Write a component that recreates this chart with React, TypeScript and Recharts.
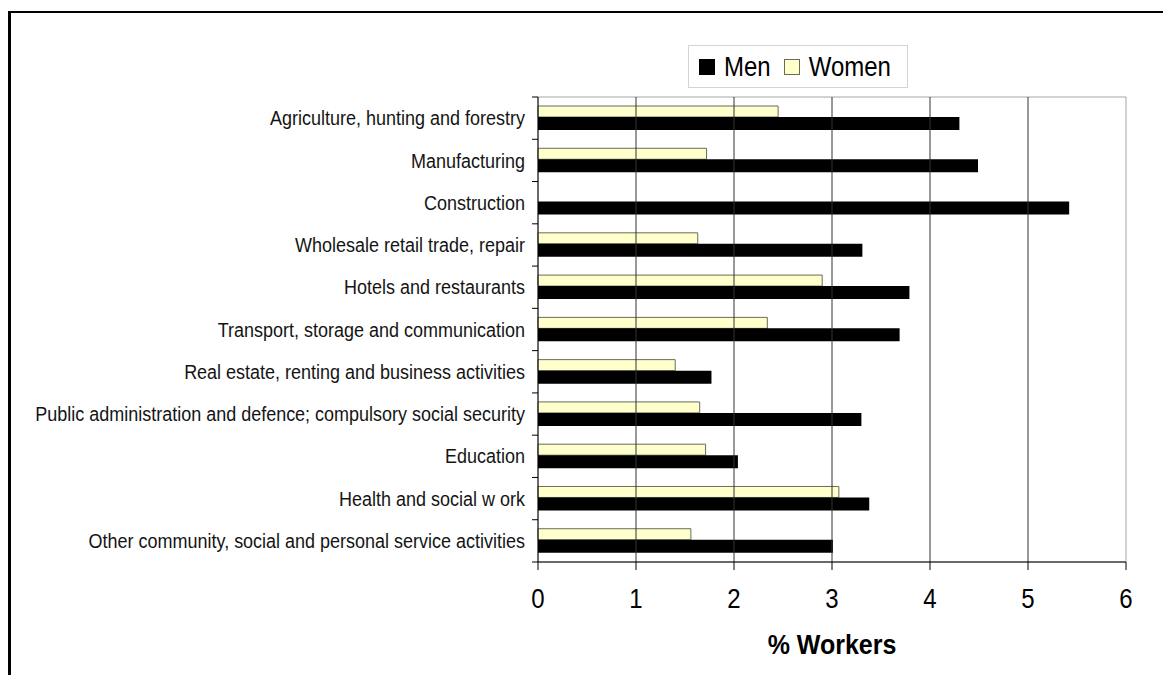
import React from 'react';
import {
  BarChart,
  Bar,
  XAxis,
  YAxis,
  Legend,
  ReferenceArea,
  ReferenceLine,
} from 'recharts';

// Share of workers by economic activity, men vs women
const categories = [
  'Agriculture, hunting and forestry',
  'Manufacturing',
  'Construction',
  'Wholesale retail trade, repair',
  'Hotels and restaurants',
  'Transport, storage and communication',
  'Real estate, renting and business activities',
  'Public administration and defence; compulsory social security',
  'Education',
  'Health and social w ork',
  'Other community, social and personal service activities',
];

const womenValues: (number | null)[] = [2.45, 1.72, null, 1.63, 2.9, 2.34, 1.4, 1.65, 1.71, 3.07, 1.56];
const menValues: number[] = [4.3, 4.49, 5.42, 3.31, 3.79, 3.69, 1.77, 3.3, 2.04, 3.38, 3.01];

const xTicks = [0, 1, 2, 3, 4, 5, 6];

const seriesNames = { men: 'Men', women: 'Women' };
const legendOrder: ('men' | 'women')[] = ['men', 'women'];

const COLORS = {
  men: '#000000',
  women: '#FFFFCC',
  womenStroke: '#6b6b5a',
  grid: '#333333',
  frame: '#a6a6a6',
};

const data = categories.map((name, i) => ({
  name,
  women: womenValues[i],
  men: menValues[i],
}));

const W = 1163;
const H = 675;
const PLOT_LEFT = 538;
const PLOT_RIGHT = 1126;
const PLOT_TOP = 97;
const PLOT_BOTTOM = 562;
const Y_AXIS_WIDTH = 528;
const X_AXIS_HEIGHT = 60;
const BAND = (PLOT_BOTTOM - PLOT_TOP) / categories.length;
const FONT = '"Liberation Sans", Arial, Helvetica, sans-serif';
const STRETCH = 1.13;

function CategoryTick(props: any) {
  const { y, payload, index } = props;
  const top = y - BAND / 2;
  const bottom = y + BAND / 2;
  return (
    <g>
      <line x1={PLOT_LEFT - 6} x2={PLOT_LEFT} y1={top} y2={top} stroke="#000" strokeWidth={1} />
      {index === categories.length - 1 && (
        <line x1={PLOT_LEFT - 6} x2={PLOT_LEFT} y1={bottom} y2={bottom} stroke="#000" strokeWidth={1} />
      )}
      <g transform={`translate(${PLOT_LEFT - 13}, ${y}) scale(1, ${STRETCH})`}>
        <text
          x={0}
          y={0}
          dy="0.35em"
          textAnchor="end"
          fontFamily={FONT}
          fontSize={18}
          fill="#141414"
        >
          {payload.value}
        </text>
      </g>
    </g>
  );
}

function ValueTick(props: any) {
  const { x, payload } = props;
  return (
    <g transform={`translate(${x}, 598) scale(1, ${STRETCH})`}>
      <text x={0} y={0} dy="0.36em" textAnchor="middle" fontFamily={FONT} fontSize={24} fill="#000">
        {payload.value}
      </text>
    </g>
  );
}

function AxisTitle(props: any) {
  const vb = props.viewBox || { x: PLOT_LEFT, width: PLOT_RIGHT - PLOT_LEFT };
  const cx = vb.x + vb.width / 2;
  return (
    <g transform={`translate(${cx}, 644) scale(1, ${STRETCH})`}>
      <text x={0} y={0} dy="0.36em" textAnchor="middle" fontFamily={FONT} fontSize={25} fontWeight="bold" fill="#000">
        % Workers
      </text>
    </g>
  );
}

function LegendBox() {
  return (
    <div
      style={{
        width: 220,
        height: 43,
        boxSizing: 'border-box',
        border: '1px solid #d4d4d4',
        background: '#fff',
        display: 'flex',
        alignItems: 'center',
        paddingLeft: 10,
        fontFamily: FONT,
        fontSize: 24,
        color: '#000',
      }}
    >
      {legendOrder.map((key, i) => (
        <div key={key} style={{ display: 'flex', alignItems: 'center', marginLeft: i === 0 ? 0 : 13 }}>
          <span
            style={{
              display: 'inline-block',
              width: 14,
              height: 14,
              background: COLORS[key],
              border: key === 'women' ? `1px solid ${COLORS.womenStroke}` : '1px solid #000',
              marginRight: 9,
            }}
          />
          <span style={{ display: 'inline-block', transform: `scaleY(${STRETCH})`, lineHeight: '24px' }}>
            {seriesNames[key]}
          </span>
        </div>
      ))}
    </div>
  );
}

export default function App() {
  return (
    <div
      style={{
        position: 'absolute',
        left: 0,
        top: 0,
        width: W,
        height: H,
        overflow: 'hidden',
        background: '#fff',
      }}
    >
      <div
        style={{
          position: 'absolute',
          left: 8,
          top: 11,
          width: W + 20,
          height: H + 20,
          borderLeft: '3px solid #000',
          borderTop: '2px solid #000',
        }}
      />
      <div style={{ position: 'absolute', left: 0, top: 0 }}>
        <BarChart
          width={W}
          height={H}
          data={data}
          layout="vertical"
          barGap={0}
          barCategoryGap={0}
          margin={{
            top: PLOT_TOP,
            right: W - PLOT_RIGHT,
            bottom: H - PLOT_BOTTOM - X_AXIS_HEIGHT,
            left: PLOT_LEFT - Y_AXIS_WIDTH,
          }}
        >
          <XAxis
            type="number"
            domain={[0, 6]}
            ticks={xTicks}
            interval={0}
            height={X_AXIS_HEIGHT}
            axisLine={{ stroke: '#000', strokeWidth: 1 }}
            tickLine={{ stroke: '#000', strokeWidth: 1 }}
            tickSize={8}
            tick={<ValueTick />}
            label={<AxisTitle />}
          />
          <YAxis
            type="category"
            dataKey="name"
            width={Y_AXIS_WIDTH}
            interval={0}
            axisLine={{ stroke: '#000', strokeWidth: 1 }}
            tickLine={false}
            tick={<CategoryTick />}
          />
          <ReferenceArea x1={0} x2={6} fill="none" stroke={COLORS.frame} strokeWidth={1} ifOverflow="extendDomain" />
          {xTicks.slice(1, -1).map((v) => (
            <ReferenceLine key={v} x={v} stroke={COLORS.grid} strokeWidth={1} />
          ))}
          <Legend
            layout="horizontal"
            verticalAlign="middle"
            align="center"
            wrapperStyle={{ left: 688, top: 45, width: 220, height: 43 }}
            content={<LegendBox />}
          />
          <Bar
            dataKey="women"
            name={seriesNames.women}
            fill={COLORS.women}
            stroke={COLORS.womenStroke}
            strokeWidth={1}
            barSize={11}
            isAnimationActive={false}
          />
          <Bar
            dataKey="men"
            name={seriesNames.men}
            fill={COLORS.men}
            barSize={13}
            isAnimationActive={false}
          />
        </BarChart>
      </div>
    </div>
  );
}
